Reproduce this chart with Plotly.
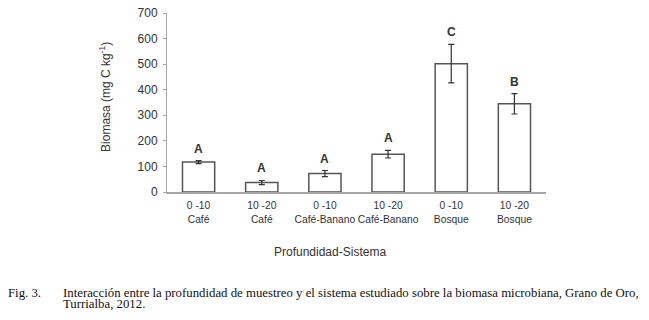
import plotly.graph_objects as go

categories = ["0 -10<br>Café", "10 -20<br>Café", "0 -10<br>Café-Banano",
              "10 -20<br>Café-Banano", "0 -10<br>Bosque", "10 -20<br>Bosque"]
values = [117, 37, 72, 148, 502, 345]
errors = [6, 8, 12, 15, 75, 40]
letters = ["A", "A", "A", "A", "C", "B"]
y_ticks = [0, 100, 200, 300, 400, 500, 600, 700]

font_sans = "Liberation Sans, Arial, sans-serif"
font_serif = "Liberation Serif, Times New Roman, serif"

fig = go.Figure()
fig.add_trace(go.Bar(
    x=categories, y=values,
    marker=dict(color="white", line=dict(color="#555555", width=1.5)),
    width=0.51,
    error_y=dict(type="data", array=errors, color="#333333", thickness=1.2, width=3),
    showlegend=False, hoverinfo="skip",
))

for c, v, e, l in zip(categories, values, errors, letters):
    fig.add_annotation(x=c, y=v + e, text="<b>" + l + "</b>", showarrow=False,
                       yshift=12, font=dict(family=font_sans, size=12, color="#333333"))

fig.update_layout(
    width=649, height=320,
    margin=dict(l=167, r=103, t=13, b=128),
    plot_bgcolor="white", paper_bgcolor="white",
    font=dict(family=font_sans, size=11, color="#333333"),
    xaxis=dict(showline=True, linecolor="#a6a6a6", linewidth=1.5, ticks="",
               tickangle=0, automargin=False, ticklabelstandoff=3,
               tickfont=dict(size=10.3, color="#333333"), fixedrange=True),
    yaxis=dict(range=[0, 700], tickvals=y_ticks, showgrid=False, zeroline=False,
               showline=True, linecolor="#a6a6a6", linewidth=1, automargin=False,
               ticks="outside", ticklen=3, tickcolor="#a6a6a6", ticklabelstandoff=3,
               tickfont=dict(size=12, color="#333333"), fixedrange=True),
)

fig.add_annotation(xref="paper", yref="paper", x=-0.1636, y=0.531,
                   xanchor="center", yanchor="middle",
                   text="Biomasa (mg C kg<sup>-1</sup>)", textangle=-90, showarrow=False,
                   font=dict(family=font_sans, size=12, color="#333333"))
fig.add_annotation(xref="paper", yref="paper", x=0.430, y=-0.335,
                   xanchor="center", yanchor="middle",
                   text="Profundidad-Sistema", showarrow=False,
                   font=dict(family=font_sans, size=12, color="#333333"))

cap_font = dict(family=font_serif, size=12.8, color="#111111")
fig.add_annotation(xref="paper", yref="paper", x=-0.422, xanchor="left", y=-0.5626,
                   yanchor="middle", borderpad=0, text="Fig. 3.", showarrow=False, font=cap_font)
fig.add_annotation(xref="paper", yref="paper", x=-0.277, xanchor="left", y=-0.5626,
                   yanchor="middle", borderpad=0,
                   text="Interacción entre la profundidad de muestreo y el sistema estudiado sobre la biomasa microbiana, Grano de Oro,",
                   showarrow=False, font=cap_font)
fig.add_annotation(xref="paper", yref="paper", x=-0.277, xanchor="left", y=-0.6257,
                   yanchor="middle", borderpad=0, text="Turrialba, 2012.", showarrow=False,
                   font=cap_font)

fig.write_html("out.html", config={"displayModeBar": False},
               post_script="document.body.style.margin='0';")
